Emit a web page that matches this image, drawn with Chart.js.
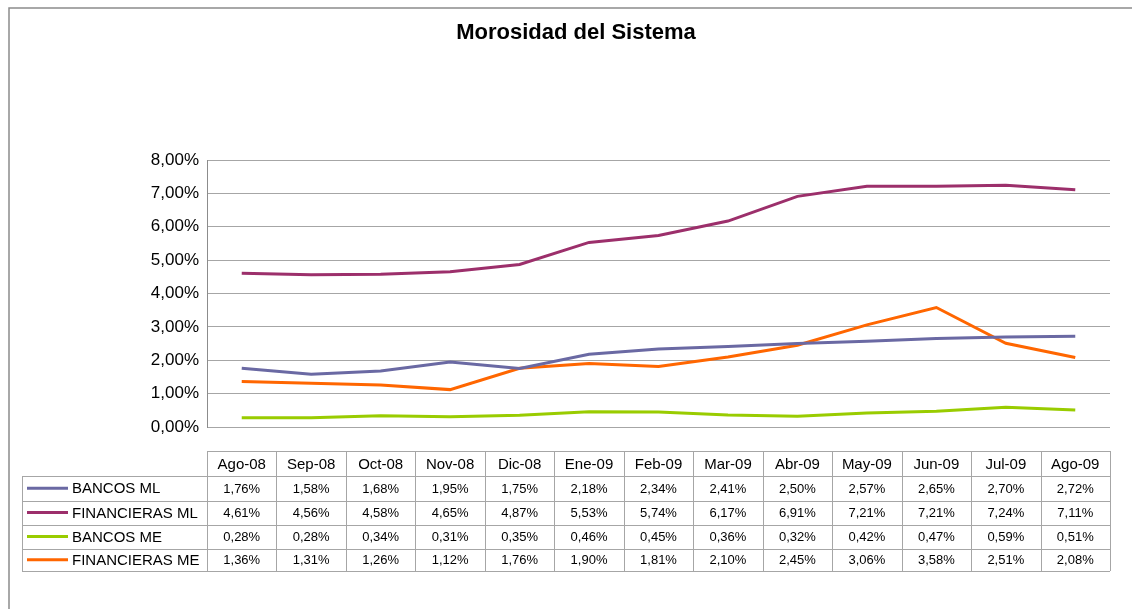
<!DOCTYPE html>
<html lang="es">
<head>
  <meta charset="UTF-8">
  <title>Morosidad del Sistema</title>
  <style>
    html, body { margin: 0; padding: 0; background: #fff; }
    canvas { display: block; }
  </style>
</head>
<body>
  <canvas id="chart" width="1132" height="609"></canvas>

  <script src="https://cdn.jsdelivr.net/npm/chart.js"></script>
  <script>
    const titulo = 'Morosidad del Sistema';
    const meses = ['Ago-08', 'Sep-08', 'Oct-08', 'Nov-08', 'Dic-08', 'Ene-09', 'Feb-09',
                   'Mar-09', 'Abr-09', 'May-09', 'Jun-09', 'Jul-09', 'Ago-09'];
    const series = ['BANCOS ML', 'FINANCIERAS ML', 'BANCOS ME', 'FINANCIERAS ME'];
    const bancosML = [1.76, 1.58, 1.68, 1.95, 1.75, 2.18, 2.34, 2.41, 2.50, 2.57, 2.65, 2.70, 2.72];
    const financierasML = [4.61, 4.56, 4.58, 4.65, 4.87, 5.53, 5.74, 6.17, 6.91, 7.21, 7.21, 7.24, 7.11];
    const bancosME = [0.28, 0.28, 0.34, 0.31, 0.35, 0.46, 0.45, 0.36, 0.32, 0.42, 0.47, 0.59, 0.51];
    const financierasME = [1.36, 1.31, 1.26, 1.12, 1.76, 1.90, 1.81, 2.10, 2.45, 3.06, 3.58, 2.51, 2.08];
    const colores = ['#6a69a3', '#9c2f6b', '#99cc00', '#ff6600'];

    const pct = v => v.toFixed(2).replace('.', ',') + '%';
    const font = 'Liberation Sans, Arial, sans-serif';

    // marco, titulo y tabla de datos debajo del grafico
    const tablaPlugin = {
      id: 'tabla',
      afterDraw(chart) {
        const ctx = chart.ctx;
        const x = chart.scales.x;
        const colW = x.getPixelForValue(1) - x.getPixelForValue(0);
        const left = x.getPixelForValue(0) - colW / 2;
        const right = x.getPixelForValue(meses.length - 1) + colW / 2;
        const legLeft = 22;
        const rows = [451, 476, 500.5, 524.5, 548.5, 571];
        const datos = [bancosML, financierasML, bancosME, financierasME];

        ctx.save();
        // marco exterior
        ctx.strokeStyle = '#8c8c8c';
        ctx.lineWidth = 1.5;
        ctx.beginPath();
        ctx.moveTo(9, chart.height);
        ctx.lineTo(9, 8);
        ctx.lineTo(chart.width, 8);
        ctx.stroke();

        // titulo
        ctx.fillStyle = '#000';
        ctx.font = 'bold 22px ' + font;
        ctx.textAlign = 'center';
        ctx.textBaseline = 'middle';
        ctx.fillText(titulo, 576, 33);

        // lineas de la tabla
        ctx.strokeStyle = '#a6a6a6';
        ctx.lineWidth = 1;
        ctx.beginPath();
        rows.forEach((y, i) => {
          ctx.moveTo(i === 0 ? left : legLeft, Math.round(y) + 0.5);
          ctx.lineTo(right, Math.round(y) + 0.5);
        });
        ctx.moveTo(legLeft + 0.5, rows[1]);
        ctx.lineTo(legLeft + 0.5, rows[5]);
        for (let i = 0; i <= meses.length; i++) {
          const cx = Math.round(left + i * colW) + 0.5;
          ctx.moveTo(cx, rows[0]);
          ctx.lineTo(cx, rows[5]);
        }
        ctx.stroke();

        // encabezados
        ctx.fillStyle = '#000';
        ctx.font = '15px ' + font;
        meses.forEach((m, i) => {
          ctx.fillText(m, x.getPixelForValue(i), (rows[0] + rows[1]) / 2 + 1);
        });

        // filas
        datos.forEach((serie, r) => {
          const cy = (rows[r + 1] + rows[r + 2]) / 2 + 1;
          ctx.strokeStyle = colores[r];
          ctx.lineWidth = 3;
          ctx.beginPath();
          ctx.moveTo(27, cy - 1);
          ctx.lineTo(68, cy - 1);
          ctx.stroke();
          ctx.textAlign = 'left';
          ctx.font = '15px ' + font;
          ctx.fillText(series[r], 72, cy);
          ctx.textAlign = 'center';
          ctx.font = '13px ' + font;
          serie.forEach((v, i) => ctx.fillText(pct(v), x.getPixelForValue(i), cy));
        });
        ctx.restore();
      }
    };

    const ds = (label, data, color) => ({
      label: label,
      data: data,
      borderColor: color,
      backgroundColor: color,
      borderWidth: 3,
      pointRadius: 0,
      tension: 0,
      fill: false
    });

    new Chart(document.getElementById('chart'), {
      type: 'line',
      data: {
        labels: meses,
        datasets: [
          ds(series[0], bancosML, colores[0]),
          ds(series[1], financierasML, colores[1]),
          ds(series[2], bancosME, colores[2]),
          ds(series[3], financierasME, colores[3])
        ]
      },
      options: {
        responsive: false,
        animation: false,
        layout: { padding: { left: 0, right: 22, top: 160, bottom: 182 } },
        plugins: {
          legend: { display: false },
          title: { display: false },
          tooltip: { enabled: false }
        },
        scales: {
          x: {
            display: false,
            offset: true
          },
          y: {
            min: 0,
            max: 8,
            ticks: {
              stepSize: 1,
              padding: 8,
              color: '#000',
              font: { family: font, size: 17 },
              callback: v => pct(v)
            },
            grid: { color: '#a6a6a6', drawTicks: false },
            border: { display: true, color: '#8c8c8c' },
            afterFit(scale) { scale.width = 207; }
          }
        }
      },
      plugins: [tablaPlugin]
    });
  </script>
</body>
</html>
